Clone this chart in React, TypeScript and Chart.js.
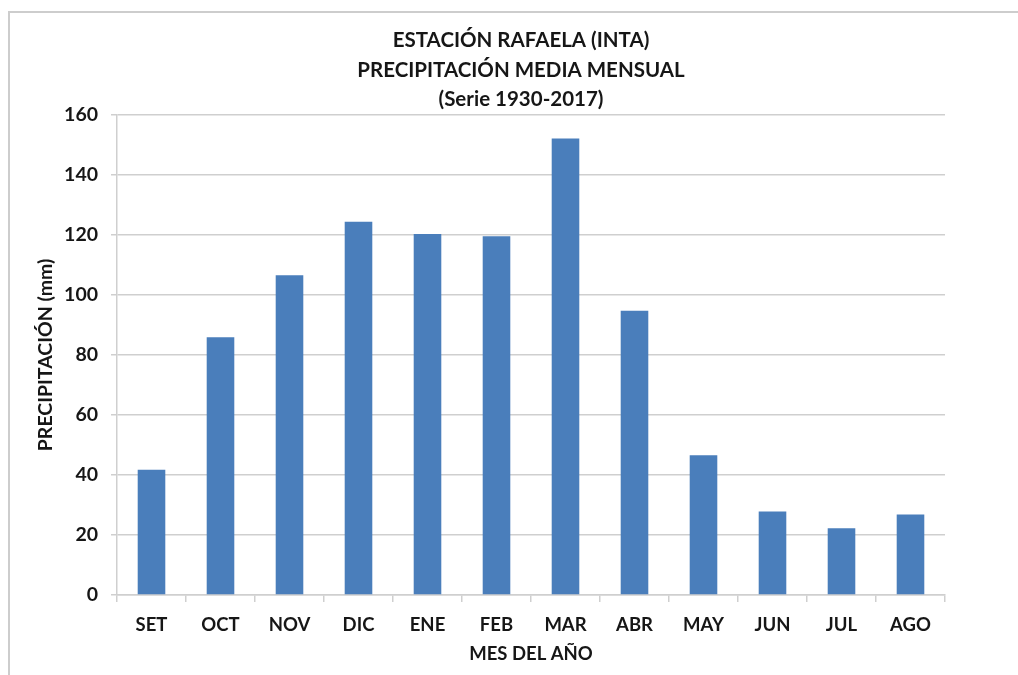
import React, { useEffect, useRef } from "react";
import { Chart, registerables } from "chart.js";

Chart.register(...registerables);

const categories = ["SET", "OCT", "NOV", "DIC", "ENE", "FEB", "MAR", "ABR", "MAY", "JUN", "JUL", "AGO"];
const precipitation = [41.7, 85.9, 106.5, 124.4, 120.3, 119.5, 152.1, 94.7, 46.6, 27.8, 22.2, 26.8];
const yMin = 0;
const yMax = 160;
const yStep = 20;
const titleLines = ["ESTACIÓN RAFAELA (INTA)", "PRECIPITACIÓN MEDIA MENSUAL", "(Serie 1930-2017)"];
const xTitle = "MES DEL AÑO";
const yTitle = "PRECIPITACIÓN (mm)";

const FONT = "Lato, 'Open Sans', sans-serif";
const TEXT = "#161616";
const GRID = "#cfcfcf";

export default function App() {
  const ref = useRef<HTMLCanvasElement | null>(null);

  useEffect(() => {
    if (!ref.current) return;
    const chart = new Chart(ref.current, {
      type: "bar",
      data: {
        labels: categories,
        datasets: [
          {
            data: precipitation,
            backgroundColor: "#4a7ebb",
            borderColor: "#4a7ebb",
            borderWidth: 0,
            barPercentage: 0.4,
            categoryPercentage: 1,
          },
        ],
      },
      options: {
        responsive: false,
        animation: false,
        layout: { padding: { left: 24, right: 0, top: 0, bottom: 0 } },
        plugins: {
          legend: { display: false },
          tooltip: { enabled: false },
          title: {
            display: true,
            text: titleLines,
            color: TEXT,
            font: { family: FONT, size: 20.5, weight: "bold", lineHeight: 1.46 },
            padding: { top: 25, bottom: 0 },
          },
        },
        scales: {
          x: {
            offset: true,
            grid: {
              display: true,
              drawOnChartArea: false,
              drawTicks: true,
              tickLength: 7,
              color: GRID,
              lineWidth: 1.5,
            },
            border: { display: true, color: GRID, width: 1.5 },
            ticks: {
              color: TEXT,
              padding: 12,
              font: { family: FONT, size: 18.5, weight: "bold" },
            },
            title: {
              display: true,
              text: xTitle,
              color: TEXT,
              font: { family: FONT, size: 18.5, weight: "bold" },
              padding: { top: 0, bottom: 10 },
            },
            afterFit: (s: any) => {
              s.height = 80;
            },
          },
          y: {
            min: yMin,
            max: yMax,
            ticks: {
              stepSize: yStep,
              color: TEXT,
              padding: 13,
              font: { family: FONT, size: 19.5, weight: "bold" },
            },
            grid: {
              color: GRID,
              lineWidth: 1.5,
              tickLength: 6,
            },
            border: { display: true, color: GRID, width: 1.5 },
            title: {
              display: true,
              text: yTitle,
              color: TEXT,
              font: { family: FONT, size: 19.5, weight: "bold" },
              padding: { top: 10, bottom: 0 },
            },
            afterFit: (s: any) => {
              s.width = 93;
            },
          },
          y2: {
            type: "linear",
            position: "right",
            display: true,
            grid: { display: false },
            border: { display: false },
            ticks: { display: false },
            afterFit: (s: any) => {
              s.width = 73;
            },
          },
        },
      },
    } as any);
    return () => chart.destroy();
  }, []);

  return (
    <div style={{ position: "fixed", left: 0, top: 0, width: 1018, height: 675, background: "#fff", overflow: "hidden" }}>
      <div
        style={{
          position: "absolute",
          left: 8,
          top: 11,
          width: 1100,
          height: 800,
          borderTop: "2px solid #cdcdcd",
          borderLeft: "2px solid #cdcdcd",
        }}
      />
      <canvas ref={ref} width={1018} height={675} style={{ position: "absolute", left: 0, top: 0 }} />
    </div>
  );
}
